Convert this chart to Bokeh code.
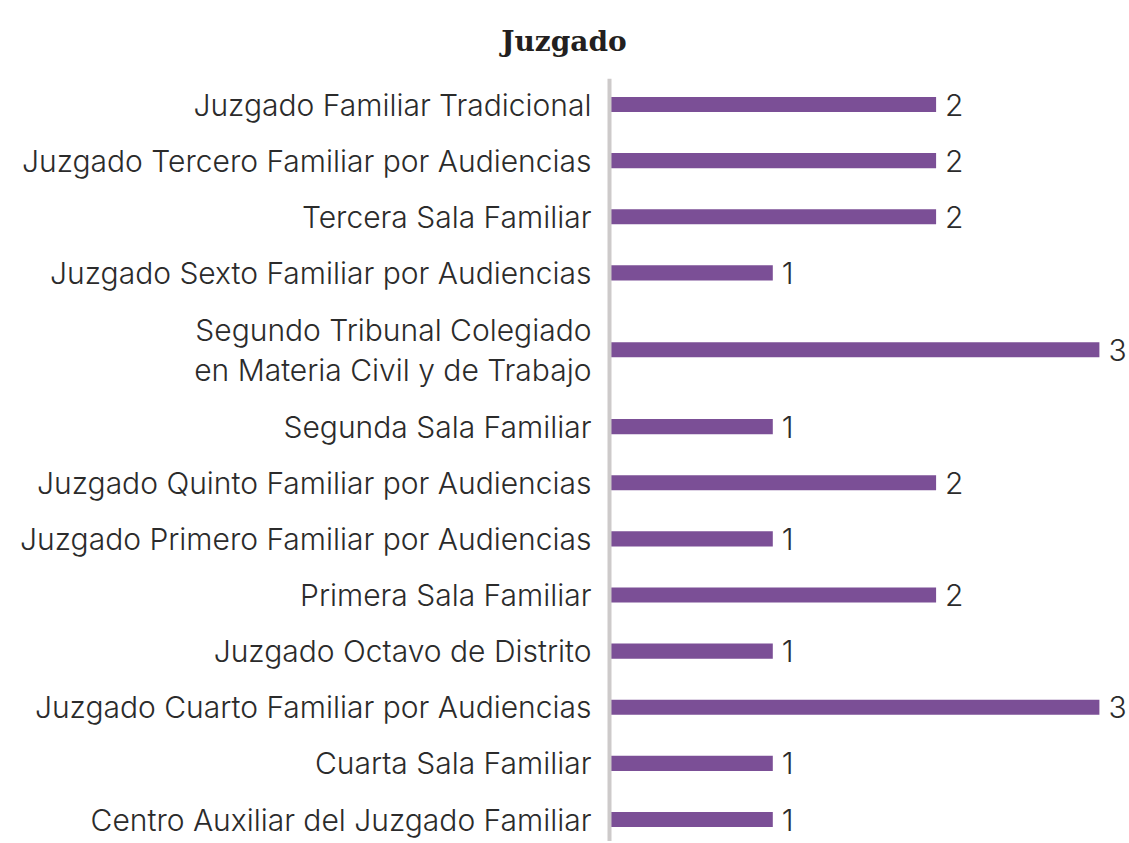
from bokeh.plotting import figure
from bokeh.models import Range1d, FixedTicker, ColumnDataSource
from bokeh.embed import file_html
from bokeh.resources import INLINE
from bokeh.core.properties import value

categories = [
    "Juzgado Familiar Tradicional",
    "Juzgado Tercero Familiar por Audiencias",
    "Tercera Sala Familiar",
    "Juzgado Sexto Familiar por Audiencias",
    "Segundo Tribunal Colegiado\nen Materia Civil y de Trabajo",
    "Segunda Sala Familiar",
    "Juzgado Quinto Familiar por Audiencias",
    "Juzgado Primero Familiar por Audiencias",
    "Primera Sala Familiar",
    "Juzgado Octavo de Distrito",
    "Juzgado Cuarto Familiar por Audiencias",
    "Cuarta Sala Familiar",
    "Centro Auxiliar del Juzgado Familiar",
]
counts = [2, 2, 2, 1, 3, 1, 2, 1, 2, 1, 3, 1, 1]

# layout: row heights from number of label lines
EXTRA_LINE = 0.74
heights = [1 + EXTRA_LINE * (c.count("\n")) for c in categories]
pos = []
acc = 0.0
for h in heights:
    pos.append(acc + h / 2)
    acc += h

FONT = "Inter Light"
TEXT_COLOR = "#2b2b2b"
BAR_COLOR = "#7b4f96"

W, H = 1127, 841
AXIS_X = 609          # pixel position of the value axis
XSCALE = 163.3        # pixels per unit
TOP = 78
UNIT = (819 - 104) / (pos[-1] - pos[0])

p = figure(width=W, height=H, output_backend="svg", toolbar_location=None,
           x_range=Range1d(-AXIS_X / XSCALE, (W - AXIS_X) / XSCALE),
           y_range=Range1d(pos[-1] + 22 / UNIT, pos[0] - 26 / UNIT),
           min_border_left=0, min_border_right=0, min_border_top=TOP,
           min_border_bottom=0, outline_line_color=None,
           title="Juzgado")

p.title.align = "center"
p.title.text_font = "DejaVu Serif"
p.title.text_font_style = "bold"
p.title.text_font_size = "28px"
p.title.text_color = "#231f20"
p.title.standoff = 41

src = ColumnDataSource(dict(y=pos, v=counts, lbl=[str(c) for c in counts]))
p.hbar(y="y", left=0, right="v", height=0.27, source=src,
       fill_color=BAR_COLOR, line_color=None)
p.text(x="v", y="y", text="lbl", source=src, x_offset=9,
       text_baseline="middle", text_align="left",
       text_font=value(FONT), text_font_size="30px", text_color=TEXT_COLOR)

p.xaxis.visible = False
p.xgrid.visible = False
p.ygrid.visible = False

ya = p.yaxis[0]
ya.fixed_location = 0
ya.ticker = FixedTicker(ticks=pos)
ya.major_label_overrides = {pv: c for pv, c in zip(pos, categories)}
ya.major_tick_line_color = None
ya.minor_tick_line_color = None
ya.axis_line_color = "#cdcaca"
ya.axis_line_width = 4
ya.major_label_standoff = 12
ya.major_label_text_font = FONT
ya.major_label_text_font_size = "30px"
ya.major_label_text_line_height = 1.1
ya.major_label_text_color = TEXT_COLOR
ya.major_label_text_align = "right"

open("out.html", "w").write(file_html(p, INLINE))
